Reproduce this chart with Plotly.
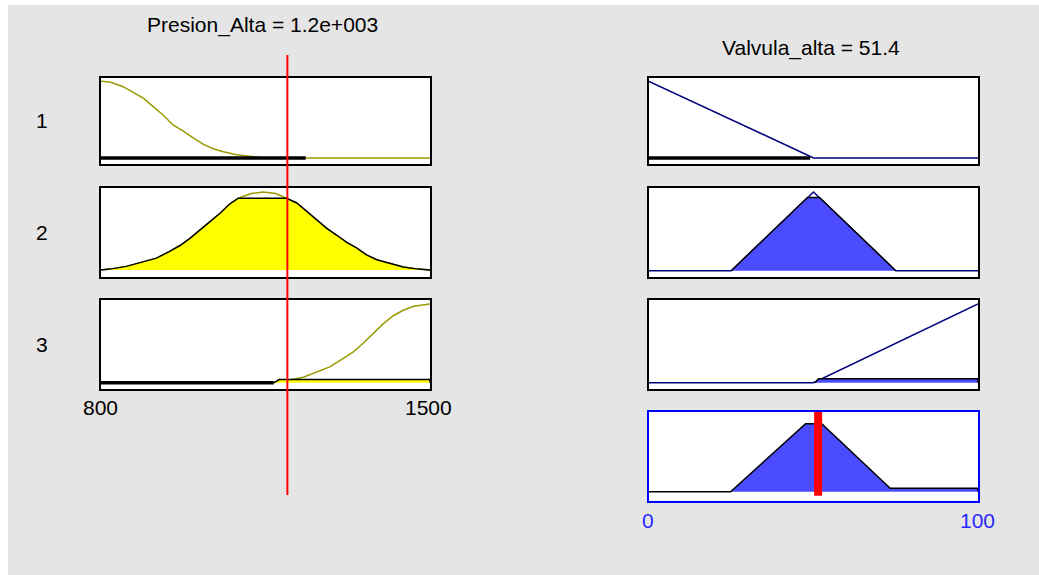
import plotly.graph_objects as go

# input: Presion_Alta, output: Valvula_alta
input_value = 1197
output_value = 51.4
input_ticks = ["800", "1500"]
output_ticks = ["0", "100"]
rule_labels = ["1", "2", "3"]

# input membership functions
mf1_x = [800, 820, 848, 869, 891, 912, 933, 954, 976, 997, 1018, 1039, 1061, 1089, 1117, 1150, 1500]
mf1_y = [1, 0.99, 0.93, 0.86, 0.78, 0.67, 0.56, 0.43, 0.35, 0.26, 0.18, 0.12, 0.08, 0.04, 0.02, 0, 0]
mf2_x = [800, 820, 855, 884, 919, 947, 969, 990, 1011, 1032, 1054, 1075, 1093, 1120, 1146, 1172, 1195,
         1217, 1238, 1259, 1280, 1302, 1323, 1344, 1365, 1387, 1415, 1443, 1475, 1500]
mf2_y = [0.01, 0.02, 0.055, 0.1, 0.16, 0.245, 0.32, 0.41, 0.52, 0.62, 0.73, 0.85, 0.92, 0.98, 1.0, 0.98, 0.92,
         0.86, 0.75, 0.65, 0.54, 0.45, 0.36, 0.29, 0.2, 0.14, 0.09, 0.046, 0.02, 0.01]
mf3_x = [800, 1168, 1190, 1206, 1231, 1259, 1287, 1316, 1337, 1358, 1380, 1401, 1422, 1443, 1465, 1496, 1500]
mf3_y = [0, 0, 0.03, 0.04, 0.07, 0.13, 0.2, 0.31, 0.39, 0.5, 0.63, 0.75, 0.85, 0.92, 0.97, 1.0, 1.0]

# fired parts of the inputs
fire1_x = [800, 1236]
fire1_y = [0, 0]
fire2_x = [800, 820, 855, 884, 919, 947, 969, 990, 1011, 1032, 1054, 1075, 1093, 1195,
           1217, 1238, 1259, 1280, 1302, 1323, 1344, 1365, 1387, 1415, 1443, 1475, 1500]
fire2_y = [0.01, 0.02, 0.055, 0.1, 0.16, 0.245, 0.32, 0.41, 0.52, 0.62, 0.73, 0.85, 0.92, 0.92,
           0.86, 0.75, 0.65, 0.54, 0.45, 0.36, 0.29, 0.2, 0.14, 0.09, 0.046, 0.02, 0.01]
fire3_black_x = [800, 1168]
fire3_black_y = [0, 0]
fire3_x = [1168, 1180, 1500, 1500]
fire3_y = [0, 0.04, 0.04, 0]

# output membership functions
omf1_x = [0, 50, 100]
omf1_y = [1, 0, 0]
omf2_x = [0, 25, 50, 75, 100]
omf2_y = [0, 0, 1, 0, 0]
omf3_x = [0, 50, 100]
omf3_y = [0, 0, 1]

ofire1_x = [0, 49]
ofire1_y = [0, 0]
ofire2_x = [25, 48.2, 51.8, 75]
ofire2_y = [0, 0.93, 0.93, 0]
ofire3_x = [50.5, 51.5, 100, 100]
ofire3_y = [0, 0.05, 0.05, 0]

agg_x = [0, 24.8, 47.6, 52.5, 73.3, 100, 100]
agg_y = [0, 0, 0.93, 0.93, 0.047, 0.047, 0]

W, H = 1039, 575
FONT = "Liberation Sans, Arial, sans-serif"
OLIVE = "#999900"
NAVY = "#00007f"
BLUE_FILL = "#4c4cff"

def px(x):
    return x / W

def py(y):
    return 1 - y / H

rows = [(77.5, 164), (188, 277), (300, 389), (412, 500.5)]
left_dom = [px(100.5), px(430)]
right_dom = [px(649), px(978)]

fig = go.Figure()

def line(x, y, ax, color, width):
    fig.add_trace(go.Scatter(x=x, y=y, xaxis="x" + ax, yaxis="y" + ax, mode="lines",
                             line=dict(color=color, width=width), hoverinfo="skip"))

def poly(x, y, ax, fill):
    fig.add_trace(go.Scatter(x=x, y=y, xaxis="x" + ax, yaxis="y" + ax, mode="lines", fill="toself",
                             fillcolor=fill, line=dict(color="black", width=1.5), hoverinfo="skip"))

# left column
line(mf1_x, mf1_y, "", OLIVE, 1.5)
line(fire1_x, fire1_y, "", "black", 3.5)
line(mf2_x, mf2_y, "2", OLIVE, 1.5)
poly(fire2_x, fire2_y, "2", "#ffff00")
line(mf3_x, mf3_y, "3", OLIVE, 1.5)
line(fire3_black_x, fire3_black_y, "3", "black", 3.5)
poly(fire3_x, fire3_y, "3", "#ffff00")

# right column
line(omf1_x, omf1_y, "4", NAVY, 1.5)
line(ofire1_x, ofire1_y, "4", "black", 3.5)
line(omf2_x, omf2_y, "5", NAVY, 1.5)
poly(ofire2_x, ofire2_y, "5", BLUE_FILL)
line(omf3_x, omf3_y, "6", NAVY, 1.5)
poly(ofire3_x, ofire3_y, "6", BLUE_FILL)
poly(agg_x, agg_y, "7", BLUE_FILL)

axes = {}
panels = [(left_dom, rows[0], [800, 1500], [-0.08, 1.05], "black"),
          (left_dom, rows[1], [800, 1500], [-0.08, 1.05], "black"),
          (left_dom, rows[2], [800, 1500], [-0.08, 1.05], "black"),
          (right_dom, rows[0], [0, 100], [-0.08, 1.05], "black"),
          (right_dom, rows[1], [0, 100], [-0.08, 1.05], "black"),
          (right_dom, rows[2], [0, 100], [-0.08, 1.05], "black"),
          (right_dom, rows[3], [0, 100], [-0.12, 1.09], "#0000ff")]
for i, (xd, (top, bot), xr, yr, lc) in enumerate(panels):
    n = "" if i == 0 else str(i + 1)
    common = dict(showgrid=False, zeroline=False, showticklabels=False, ticks="",
                  showline=True, mirror=True, linecolor=lc, linewidth=2, fixedrange=True)
    axes["xaxis" + n] = dict(domain=xd, range=xr, anchor="y" + n, **common)
    axes["yaxis" + n] = dict(domain=[py(bot), py(top)], range=yr, anchor="x" + n, **common)

shapes = [
    dict(type="rect", xref="paper", yref="paper", x0=0, x1=1, y0=py(5), y1=1,
         fillcolor="white", line_width=0, layer="below"),
    dict(type="rect", xref="paper", yref="paper", x0=0, x1=px(8), y0=0, y1=1,
         fillcolor="white", line_width=0, layer="below"),
    dict(type="line", xref="x", yref="paper", x0=input_value, x1=input_value,
         y0=py(495), y1=py(55), line=dict(color="red", width=2)),
    dict(type="line", xref="x7", yref="y7", x0=output_value, x1=output_value,
         y0=-0.055, y1=1.09, line=dict(color="red", width=8)),
]

annotations = []

def text(s, x, y, color="black"):
    annotations.append(dict(text=s, x=px(x), y=py(y), xref="paper", yref="paper",
                            xanchor="center", yanchor="middle", showarrow=False,
                            font=dict(family=FONT, size=21, color=color)))

text("Presion_Alta = 1.2e+003", 262, 25)
text(f"Valvula_alta = {output_value}", 810.5, 48)
for lab, (top, bot) in zip(rule_labels, rows[:3]):
    text(lab, 42, (top + bot) / 2)
text(input_ticks[0], 100, 408)
text(input_ticks[1], 428, 408)
text(output_ticks[0], 648, 520, "#2828ff")
text(output_ticks[1], 977, 520, "#2828ff")

fig.update_layout(width=W, height=H, margin=dict(l=0, r=0, t=0, b=0),
                  paper_bgcolor="#e5e5e5", plot_bgcolor="white", showlegend=False,
                  shapes=shapes, annotations=annotations, **axes)

fig.write_html("out.html", config={"displayModeBar": False},
               post_script="document.body.style.margin = '0';")
